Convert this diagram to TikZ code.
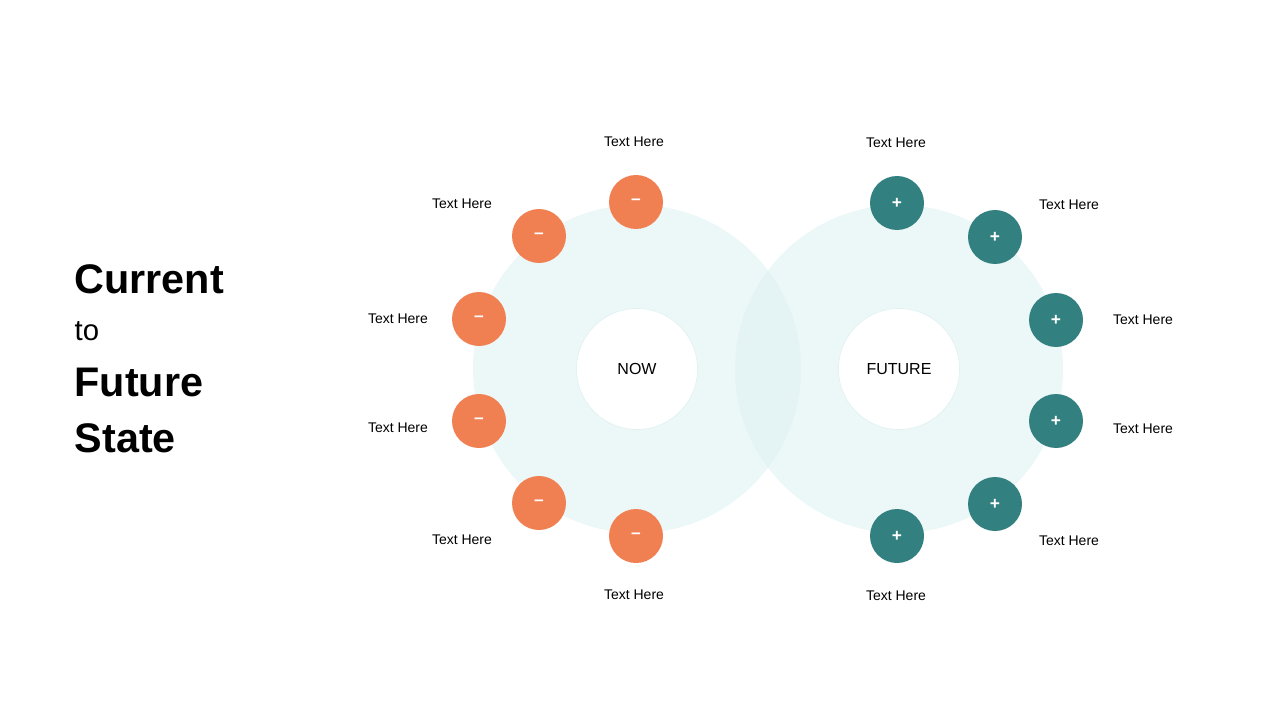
\documentclass[tikz,border=0pt]{standalone}
\usepackage{fontspec}
\setmainfont{Liberation Sans}
\definecolor{minus}{HTML}{F07F52}
\definecolor{plus}{HTML}{338080}
\definecolor{halo}{HTML}{DDF0F0}
\tikzset{
  big/.style = {circle, fill = halo, fill opacity = 0.55, minimum size = 328*0.75pt, inner sep = 0},
  core/.style = {circle, fill = white, draw = halo, minimum size = 121*0.75pt, font = \fontsize{12}{14}\selectfont},
  dot/.style = {circle, minimum size = 54*0.75pt, inner sep = 0, text = white, font = \bfseries\fontsize{13}{13}\selectfont},
  lbl/.style = {font = \fontsize{10.5}{12}\selectfont}
}
\begin{document}
\begin{tikzpicture}[x=0.75pt, y=-0.75pt]
\useasboundingbox (0,0) rectangle (1280,720);
% title
\node[anchor=west, font=\bfseries\fontsize{31}{31}\selectfont] (t1) at (70,279) {Current};
\node[anchor=west, font=\fontsize{22}{22}\selectfont] (t2) at (70,331) {to};
\node[anchor=west, font=\bfseries\fontsize{31}{31}\selectfont] (t3) at (70,382) {Future};
\node[anchor=west, font=\bfseries\fontsize{31}{31}\selectfont] (t4) at (70,438) {State};
% rings
\node[big] (nowring) at (637,369) {};
\node[big] (futring) at (899,369) {};
\node[core] (now) at (637,369) {NOW};
\node[core] (fut) at (899,369) {FUTURE};
% left side
\foreach \i/\x/\y/\lx/\ly in {1/636/202/634/142, 2/539/236/462/204, 3/479/319/398/319,
                               4/479/421/398/428, 5/539/503/462/540, 6/636/536/634/595} {
  \node[dot, fill = minus] (m\i) at (\x,\y) {--};
  \node[lbl] (ml\i) at (\lx,\ly) {Text Here};
}
% right side
\foreach \i/\x/\y/\lx/\ly in {1/897/203/896/143, 2/995/237/1069/205, 3/1056/320/1143/320,
                               4/1056/421/1143/429, 5/995/504/1069/541, 6/897/536/896/596} {
  \node[dot, fill = plus] (p\i) at (\x,\y) {+};
  \node[lbl] (pl\i) at (\lx,\ly) {Text Here};
}
\end{tikzpicture}
\end{document}
